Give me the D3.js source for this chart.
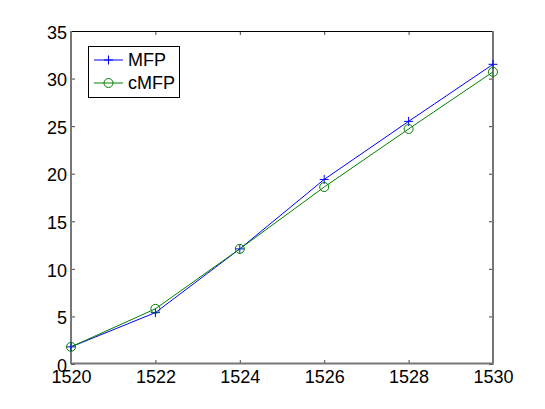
<!DOCTYPE html>
<html><head><meta charset="utf-8">
<script src="https://cdn.jsdelivr.net/npm/d3@7"></script>
<style>body{margin:0;background:#fff}svg{display:block}text{font-family:"Liberation Sans",Arial,Helvetica,sans-serif}</style>
</head><body>
<script>
const xValues = [1520, 1522, 1524, 1526, 1528, 1530];
const mfp = [1.8, 5.4, 12.1, 19.4, 25.5, 31.5];
const cmfp = [1.8, 5.8, 12.1, 18.6, 24.7, 30.7];
const seriesNames = ["MFP", "cMFP"];
const xTicks = [1520, 1522, 1524, 1526, 1528, 1530];
const yTicks = [0, 5, 10, 15, 20, 25, 30, 35];

const W = 545, H = 409;
const L = 71, R = 493, T = 31, B = 364;
const FS = 18;
const svg = d3.select("body").append("svg").attr("width", W).attr("height", H);
svg.append("rect").attr("width", W).attr("height", H).attr("fill", "#fff");

const x = d3.scaleLinear().domain([1520, 1530]).range([L, R]);
const y = d3.scaleLinear().domain([0, 35]).range([B, T]);

// axes
const gx = svg.append("g").attr("transform", `translate(0,${B})`)
  .call(d3.axisBottom(x).tickValues(xTicks).tickSize(-4).tickPadding(6).tickFormat(d3.format("d")));
const gy = svg.append("g").attr("transform", `translate(${L},0)`)
  .call(d3.axisLeft(y).tickValues(yTicks).tickSize(-4).tickPadding(4).tickFormat(d3.format("d")));
const gx2 = svg.append("g").attr("transform", `translate(0,${T})`)
  .call(d3.axisTop(x).tickValues(xTicks).tickSize(-4).tickFormat(""));
const gy2 = svg.append("g").attr("transform", `translate(${R},0)`)
  .call(d3.axisRight(y).tickValues(yTicks).tickSize(-4).tickFormat(""));
[gx, gy, gx2, gy2].forEach(g => {
  g.select(".domain").remove();
  g.selectAll(".tick line").attr("stroke", "#444").attr("stroke-width", 1);
  g.selectAll("text").attr("fill", "#000").attr("font-size", FS);
});
gx.selectAll("text").attr("dy", "0.71em");
gy.selectAll("text").attr("dy", "0.4em");

// box
svg.append("line").attr("x1", L).attr("x2", R).attr("y1", T+0.5).attr("y2", T+0.5).attr("stroke", "#000");
svg.append("line").attr("x1", L).attr("x2", R+1).attr("y1", B-0.5).attr("y2", B-0.5).attr("stroke", "#777").attr("stroke-width", 2);
svg.append("line").attr("x1", L).attr("x2", L).attr("y1", T).attr("y2", B).attr("stroke", "#777").attr("stroke-width", 2);
svg.append("line").attr("x1", R).attr("x2", R).attr("y1", T).attr("y2", B).attr("stroke", "#777").attr("stroke-width", 2);

const colors = ["#0000ff", "#008000"];
const series = [mfp, cmfp];
const line = d3.line().x((d, i) => x(xValues[i])).y(d => y(d));

function plus(g, cx, cy, c) {
  g.append("path").attr("d", `M${cx-4.5},${cy}H${cx+4.5}M${cx},${cy-4.5}V${cy+4.5}`)
    .attr("stroke", c).attr("stroke-width", 1).attr("fill", "none");
}
function circ(g, cx, cy, c) {
  g.append("circle").attr("cx", cx).attr("cy", cy).attr("r", 4.5)
    .attr("stroke", c).attr("stroke-width", 1).attr("fill", "none");
}

series.forEach((s, k) => {
  const g = svg.append("g");
  g.append("path").datum(s).attr("d", line).attr("fill", "none").attr("stroke", colors[k]).attr("stroke-width", 1);
  s.forEach((d, i) => (k === 0 ? plus : circ)(g, x(xValues[i]), y(d), colors[k]));
});

// legend
const lg = svg.append("g");
lg.append("rect").attr("x", 88.5).attr("y", 46.5).attr("width", 91).attr("height", 51)
  .attr("fill", "#fff").attr("stroke", "#000").attr("stroke-width", 1);
const ly = [60, 83];
seriesNames.forEach((n, k) => {
  lg.append("line").attr("x1", 94).attr("x2", 123).attr("y1", ly[k]).attr("y2", ly[k])
    .attr("stroke", colors[k]).attr("stroke-width", 1);
  (k === 0 ? plus : circ)(lg, 108.5, ly[k], colors[k]);
  lg.append("text").attr("x", 128).attr("y", ly[k]).attr("dy", "0.36em").attr("font-size", FS).text(n);
});
</script>
</body></html>
